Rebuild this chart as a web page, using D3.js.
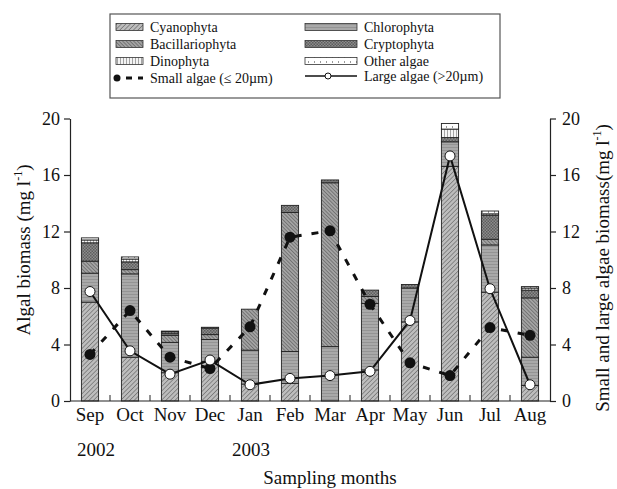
<!DOCTYPE html>
<html>
<head>
<meta charset="utf-8">
<script src="https://cdn.jsdelivr.net/npm/d3@7"></script>
<style>
  body { margin: 0; background: #fff; }
  svg { display: block; }
  svg text { font-family: "Liberation Serif", "Times New Roman", "DejaVu Serif", serif; }
</style>
</head>
<body>
<div id="chart"></div>
<script>
// months and groups
const months = ["Sep", "Oct", "Nov", "Dec", "Jan", "Feb", "Mar", "Apr", "May", "Jun", "Jul", "Aug"];
const groups = ["Cyanophyta", "Chlorophyta", "Bacillariophyta", "Cryptophyta", "Dinophyta", "Other algae"];

// algal biomass per group (mg l-1), stacked bottom to top
const cyano  = [7.0, 3.1, 2.0, 2.8, 1.2, 1.25, 0.0, 2.2, 5.6, 16.6, 7.7, 1.1];
const chloro = [2.05, 5.9, 2.15, 1.55, 2.4, 2.25, 3.85, 4.7, 2.4, 1.75, 3.35, 2.0];
const bacil  = [0.85, 0.3, 0.5, 0.35, 2.9, 9.85, 11.6, 0.5, 0.0, 0.0, 0.4, 4.2];
const crypto = [1.3, 0.55, 0.15, 0.45, 0.0, 0.5, 0.2, 0.45, 0.25, 0.3, 1.7, 0.55];
const dino   = [0.2, 0.2, 0.1, 0.07, 0.0, 0.0, 0.0, 0.0, 0.0, 0.6, 0.1, 0.15];
const other  = [0.15, 0.15, 0.05, 0.0, 0.0, 0.0, 0.0, 0.0, 0.0, 0.4, 0.2, 0.1];

// size fractions (right axis)
const small = [3.3, 6.4, 3.1, 2.3, 5.25, 11.6, 12.05, 6.85, 2.7, 1.8, 5.2, 4.65];
const large = [7.75, 3.55, 1.9, 2.9, 1.15, 1.6, 1.8, 2.1, 5.7, 17.35, 7.95, 1.15];

const yTicks = [0, 4, 8, 12, 16, 20];

const serif = '"Liberation Serif", "Times New Roman", serif';
const width = 617, height = 489;
const margin = {t: 118.5, r: 67, b: 88, l: 70};

const svg = d3.select('#chart')
    .append('svg')
    .attr('width', width)
    .attr('height', height)
    .attr('font-family', serif);

const defs = svg.append('defs');

// hatch patterns
function hatch(id, bg, stroke, size, angle, sw) {
    const p = defs.append('pattern')
        .attr('id', id)
        .attr('patternUnits', 'userSpaceOnUse')
        .attr('width', size).attr('height', size)
        .attr('patternTransform', `rotate(${angle})`);
    p.append('rect').attr('width', size).attr('height', size).attr('fill', bg);
    p.append('line').attr('x1', 0).attr('y1', 0).attr('x2', 0).attr('y2', size)
        .attr('stroke', stroke).attr('stroke-width', sw);
}
hatch('p-cyano', '#bdbdbd', '#5a5a5a', 3.2, 45, 1.1);
hatch('p-bacil', '#a3a3a3', '#4a4a4a', 2.6, -45, 1);
hatch('p-chloro', '#a9a9a9', '#7a7a7a', 3, 90, 0.9);
hatch('p-dino', '#f4f4f4', '#555', 3, 0, 1);

const pc = defs.append('pattern').attr('id', 'p-crypto')
    .attr('patternUnits', 'userSpaceOnUse').attr('width', 3).attr('height', 3);
pc.append('rect').attr('width', 3).attr('height', 3).attr('fill', '#8c8c8c');
pc.append('rect').attr('width', 1.5).attr('height', 1.5).attr('fill', '#5e5e5e');
pc.append('rect').attr('x', 1.5).attr('y', 1.5).attr('width', 1.5).attr('height', 1.5).attr('fill', '#5e5e5e');

const po = defs.append('pattern').attr('id', 'p-other')
    .attr('patternUnits', 'userSpaceOnUse').attr('width', 6).attr('height', 5);
po.append('rect').attr('width', 6).attr('height', 5).attr('fill', '#fff');
po.append('rect').attr('x', 2).attr('y', 1).attr('width', 1).attr('height', 2).attr('fill', '#999');

const fills = {
    'Cyanophyta': 'url(#p-cyano)',
    'Chlorophyta': 'url(#p-chloro)',
    'Bacillariophyta': 'url(#p-bacil)',
    'Cryptophyta': 'url(#p-crypto)',
    'Dinophyta': 'url(#p-dino)',
    'Other algae': 'url(#p-other)'
};

// scales
const x = d3.scaleBand()
    .domain(months)
    .range([margin.l, width - margin.r])
    .paddingInner(0.57)
    .paddingOuter(0.285);

const y = d3.scaleLinear()
    .domain([0, 20])
    .range([height - margin.b, margin.t]);

// stacked table
const table = months.map((m, i) => ({
    month: m,
    'Cyanophyta': cyano[i],
    'Chlorophyta': chloro[i],
    'Bacillariophyta': bacil[i],
    'Cryptophyta': crypto[i],
    'Dinophyta': dino[i],
    'Other algae': other[i]
}));
const series = d3.stack().keys(groups)(table);

svg.append('g')
    .selectAll('g')
    .data(series)
    .enter()
    .append('g')
    .attr('fill', d => fills[d.key])
    .selectAll('rect')
    .data(d => d.filter(s => s[1] - s[0] > 0))
    .enter()
    .append('rect')
    .attr('x', d => x(d.data.month))
    .attr('width', x.bandwidth())
    .attr('y', d => y(d[1]))
    .attr('height', d => y(d[0]) - y(d[1]))
    .attr('stroke', '#222')
    .attr('stroke-width', 0.9);

// axes
const bottomY = height - margin.b;
const axisL = svg.append('g')
    .attr('transform', `translate(${margin.l},0)`)
    .call(d3.axisLeft(y).tickValues(yTicks).tickSize(6).tickSizeOuter(0).tickPadding(4));
const axisR = svg.append('g')
    .attr('transform', `translate(${width - margin.r},0)`)
    .call(d3.axisRight(y).tickValues(yTicks).tickSize(6).tickSizeOuter(0).tickPadding(6));
[axisL, axisR].forEach(a => {
    a.attr('font-family', serif);
    a.selectAll('text').attr('font-size', 18).attr('fill', '#111');
    a.selectAll('line, path').attr('stroke', '#222').attr('stroke-width', 1.2);
});

svg.append('line')
    .attr('x1', margin.l).attr('x2', width - margin.r)
    .attr('y1', bottomY).attr('y2', bottomY)
    .attr('stroke', '#222').attr('stroke-width', 1.2);

svg.append('g')
    .selectAll('line')
    .data(months.slice(0, -1))
    .enter()
    .append('line')
    .attr('x1', d => x(d) + x.bandwidth() / 2 + x.step() / 2)
    .attr('x2', d => x(d) + x.bandwidth() / 2 + x.step() / 2)
    .attr('y1', bottomY).attr('y2', bottomY - 6)
    .attr('stroke', '#222').attr('stroke-width', 1);

svg.append('g')
    .selectAll('text')
    .data(months)
    .enter()
    .append('text')
    .attr('x', d => x(d) + x.bandwidth() / 2)
    .attr('y', 421)
    .attr('text-anchor', 'middle')
    .attr('font-size', 19)
    .attr('fill', '#111')
    .text(d => d);

svg.append('text').attr('x', 77).attr('y', 456).attr('font-size', 19).attr('fill', '#111').text('2002');
svg.append('text').attr('x', 232).attr('y', 456).attr('font-size', 19).attr('fill', '#111').text('2003');
svg.append('text').attr('x', 330).attr('y', 484).attr('text-anchor', 'middle')
    .attr('font-size', 19).attr('fill', '#111').text('Sampling months');

// axis titles
function unitTitle(g, label) {
    const t = g.append('text').attr('text-anchor', 'middle').attr('font-size', 19).attr('fill', '#111');
    t.append('tspan').text(label);
    t.append('tspan').attr('font-size', 12).attr('dy', -8).text('-1');
    t.append('tspan').attr('dy', 8).text(')');
}
unitTitle(svg.append('g').attr('transform', 'translate(30,250) rotate(-90)'), 'Algal biomass (mg l');
unitTitle(svg.append('g').attr('transform', 'translate(609,268) rotate(-90)'), 'Small and large algae biomass(mg l');

// lines
const line = d3.line()
    .x((d, i) => x(months[i]) + x.bandwidth() / 2)
    .y(d => y(d));

svg.append('path')
    .datum(small)
    .attr('d', line)
    .attr('fill', 'none')
    .attr('stroke', '#111')
    .attr('stroke-width', 3)
    .attr('stroke-dasharray', '7,10');

svg.append('g')
    .selectAll('circle')
    .data(small)
    .enter()
    .append('circle')
    .attr('cx', (d, i) => x(months[i]) + x.bandwidth() / 2)
    .attr('cy', d => y(d))
    .attr('r', 5.5)
    .attr('fill', '#111');

svg.append('path')
    .datum(large)
    .attr('d', line)
    .attr('fill', 'none')
    .attr('stroke', '#111')
    .attr('stroke-width', 2);

svg.append('g')
    .selectAll('circle')
    .data(large)
    .enter()
    .append('circle')
    .attr('cx', (d, i) => x(months[i]) + x.bandwidth() / 2)
    .attr('cy', d => y(d))
    .attr('r', 5)
    .attr('fill', '#fff')
    .attr('stroke', '#111')
    .attr('stroke-width', 1);

// legend
const legend = svg.append('g').attr('font-size', 14).attr('fill', '#111');
legend.append('rect')
    .attr('x', 110).attr('y', 14).attr('width', 390).attr('height', 84)
    .attr('fill', '#fff').attr('stroke', '#555').attr('stroke-width', 1.2);

const legendItems = [
    {name: 'Cyanophyta', col: 0, row: 0},
    {name: 'Bacillariophyta', col: 0, row: 1},
    {name: 'Dinophyta', col: 0, row: 2},
    {name: 'Chlorophyta', col: 1, row: 0},
    {name: 'Cryptophyta', col: 1, row: 1},
    {name: 'Other algae', col: 1, row: 2}
];
const colX = [{s: 116, w: 27, t: 150}, {s: 305, w: 52, t: 364}];
const rowY = [27, 44, 61, 78];

legendItems.forEach(it => {
    const c = colX[it.col];
    legend.append('rect')
        .attr('x', c.s).attr('y', rowY[it.row] - 3.5)
        .attr('width', c.w).attr('height', 7)
        .attr('fill', fills[it.name]).attr('stroke', '#333').attr('stroke-width', 0.8);
    legend.append('text')
        .attr('x', c.t).attr('y', rowY[it.row] + 5)
        .attr('fill', '#111')
        .text(it.name);
});

legend.append('line')
    .attr('x1', 114).attr('x2', 143).attr('y1', rowY[3]).attr('y2', rowY[3])
    .attr('stroke', '#111').attr('stroke-width', 3).attr('stroke-dasharray', '6,6');
legend.append('circle').attr('cx', 117).attr('cy', rowY[3]).attr('r', 3.5).attr('fill', '#111');
legend.append('text').attr('x', 150).attr('y', rowY[3] + 5).attr('fill', '#111')
    .text('Small algae (\u2264 20\u00b5m)');

legend.append('line')
    .attr('x1', 305).attr('x2', 357).attr('y1', rowY[3] - 2).attr('y2', rowY[3] - 2)
    .attr('stroke', '#111').attr('stroke-width', 1.5);
legend.append('circle').attr('cx', 328).attr('cy', rowY[3] - 2).attr('r', 3)
    .attr('fill', '#fff').attr('stroke', '#111').attr('stroke-width', 1);
legend.append('text').attr('x', 364).attr('y', rowY[3] + 3).attr('fill', '#111')
    .text('Large algae (>20\u00b5m)');
</script>
</body>
</html>
